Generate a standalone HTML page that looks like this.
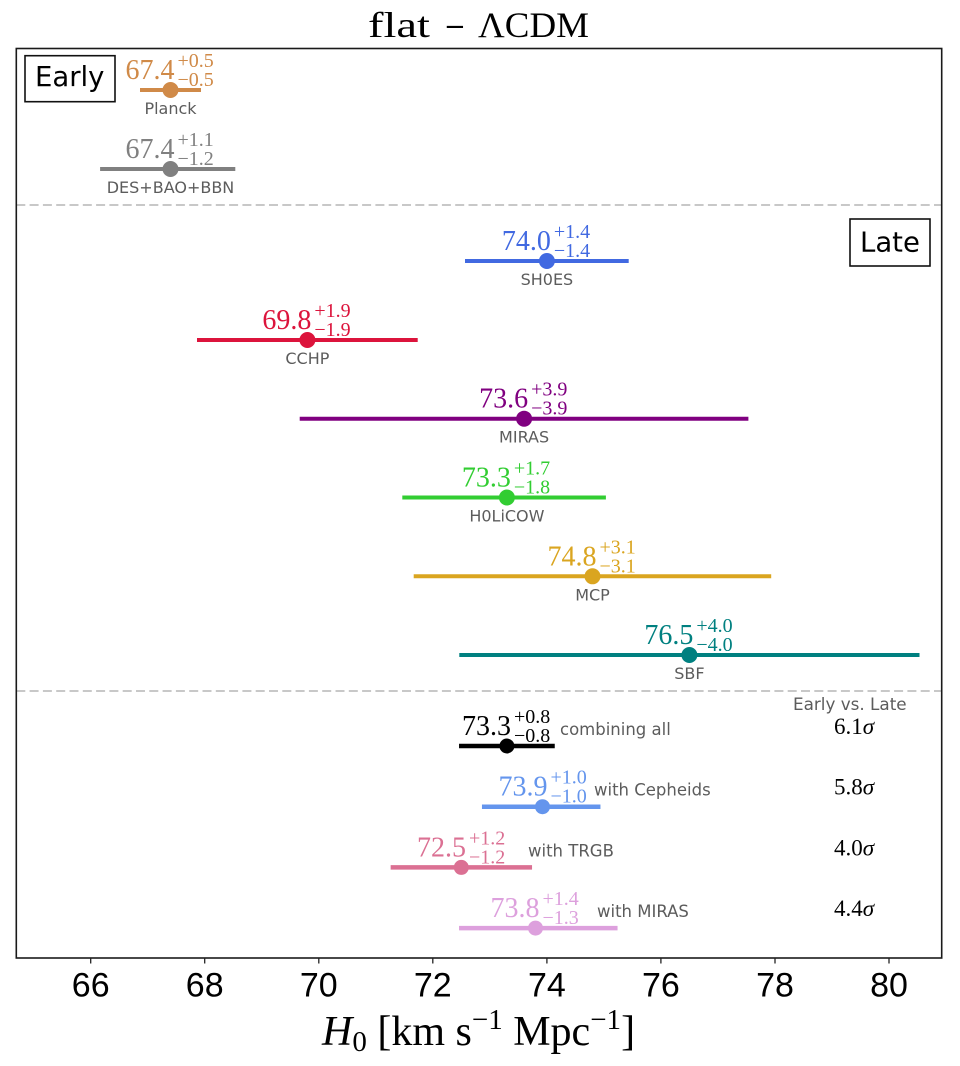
<!DOCTYPE html>
<html>
<head>
<meta charset="utf-8">
<style>
  html, body { margin: 0; padding: 0; background: #ffffff; }
  body { width: 960px; height: 1066px; overflow: hidden; }
  svg { display: block; }
  .serif { font-family: "Liberation Serif", "DejaVu Serif", serif; }
  .sans { font-family: "DejaVu Sans", "Liberation Sans", sans-serif; }
  .lsans { font-family: "Liberation Sans", "DejaVu Sans", sans-serif; }
  .lbl { font-family: "DejaVu Sans", "Liberation Sans", sans-serif; font-size: 16px; fill: #5c5c5c; }
  .blbl { font-family: "DejaVu Sans", "Liberation Sans", sans-serif; font-size: 16.5px; fill: #5c5c5c; }
  .val { font-family: "Liberation Serif", "DejaVu Serif", serif; font-size: 28px; }
  .sup { font-family: "Liberation Serif", "DejaVu Serif", serif; font-size: 20px; }
  .tminus { font-family: "DejaVu Serif", serif; font-size: 26px; }
</style>
</head>
<body>
<svg width="960" height="1066" viewBox="0 0 960 1066" xmlns="http://www.w3.org/2000/svg">
  <rect x="0" y="0" width="960" height="1066" fill="#ffffff"/>

  <!-- Title -->
  <text x="368" y="37" class="serif" font-size="36" fill="#000" textLength="62" lengthAdjust="spacingAndGlyphs">flat</text>
  <text x="444" y="35" class="tminus" fill="#000">−</text>
  <text x="478" y="37" class="serif" font-size="36" fill="#000" textLength="111" lengthAdjust="spacingAndGlyphs">ΛCDM</text>

  <!-- dashed separators -->
  <line x1="16.3" y1="205" x2="941.7" y2="205" stroke="#c8c8c8" stroke-width="2" stroke-dasharray="9 4.3"/>
  <line x1="16.3" y1="691" x2="941.7" y2="691" stroke="#c8c8c8" stroke-width="2" stroke-dasharray="9 4.3"/>

  <!-- Early / Late boxes -->
  <rect x="25" y="55.7" width="90" height="46" fill="#fff" stroke="#111" stroke-width="1.6"/>
  <text x="35" y="86" class="sans" font-size="27.5" fill="#000">Early</text>
  <rect x="850" y="219" width="80" height="47" fill="#fff" stroke="#111" stroke-width="1.6"/>
  <text x="860" y="251.7" class="sans" font-size="27.5" fill="#000">Late</text>

  <!-- ===== Rows ===== -->
  <!-- Planck -->
  <g>
    <line x1="142.0" y1="90" x2="199.0" y2="90" stroke="#d08a48" stroke-width="4" stroke-linecap="square"/>
    <circle cx="170.5" cy="90" r="8" fill="#d08a48"/>
    <text x="125.5" y="79" class="val" fill="#d08a48">67.4</text>
    <text x="177.5" y="67" class="sup" fill="#d08a48">+0.5</text>
    <text x="177.5" y="86" class="sup" fill="#d08a48">−0.5</text>
    <text x="170.5" y="114" class="lbl" text-anchor="middle">Planck</text>
  </g>
  <!-- DES -->
  <g>
    <line x1="102.1" y1="169" x2="233.3" y2="169" stroke="#808080" stroke-width="4" stroke-linecap="square"/>
    <circle cx="170.5" cy="169" r="8" fill="#808080"/>
    <text x="125.5" y="158" class="val" fill="#808080">67.4</text>
    <text x="177.5" y="146" class="sup" fill="#808080">+1.1</text>
    <text x="177.5" y="165" class="sup" fill="#808080">−1.2</text>
    <text x="170.5" y="193" class="lbl" text-anchor="middle">DES+BAO+BBN</text>
  </g>
  <!-- SH0ES -->
  <g>
    <line x1="467.0" y1="261" x2="626.7" y2="261" stroke="#4169e1" stroke-width="4" stroke-linecap="square"/>
    <circle cx="546.9" cy="261" r="8" fill="#4169e1"/>
    <text x="501.9" y="250" class="val" fill="#4169e1">74.0</text>
    <text x="553.9" y="238" class="sup" fill="#4169e1">+1.4</text>
    <text x="553.9" y="257" class="sup" fill="#4169e1">−1.4</text>
    <text x="546.9" y="285" class="lbl" text-anchor="middle">SH0ES</text>
  </g>
  <!-- CCHP -->
  <g>
    <line x1="199.0" y1="340" x2="415.7" y2="340" stroke="#dc143c" stroke-width="4" stroke-linecap="square"/>
    <circle cx="307.4" cy="340" r="8" fill="#dc143c"/>
    <text x="262.4" y="329" class="val" fill="#dc143c">69.8</text>
    <text x="314.4" y="317" class="sup" fill="#dc143c">+1.9</text>
    <text x="314.4" y="336" class="sup" fill="#dc143c">−1.9</text>
    <text x="307.4" y="364" class="lbl" text-anchor="middle">CCHP</text>
  </g>
  <!-- MIRAS -->
  <g>
    <line x1="301.7" y1="418.7" x2="746.4" y2="418.7" stroke="#800080" stroke-width="4" stroke-linecap="square"/>
    <circle cx="524.1" cy="418.7" r="8" fill="#800080"/>
    <text x="479.1" y="407.7" class="val" fill="#800080">73.6</text>
    <text x="531.1" y="395.7" class="sup" fill="#800080">+3.9</text>
    <text x="531.1" y="414.7" class="sup" fill="#800080">−3.9</text>
    <text x="524.1" y="442.7" class="lbl" text-anchor="middle">MIRAS</text>
  </g>
  <!-- H0LiCOW -->
  <g>
    <line x1="404.3" y1="497.5" x2="603.9" y2="497.5" stroke="#32cd32" stroke-width="4" stroke-linecap="square"/>
    <circle cx="506.9" cy="497.5" r="8" fill="#32cd32"/>
    <text x="461.9" y="486.5" class="val" fill="#32cd32">73.3</text>
    <text x="513.9" y="474.5" class="sup" fill="#32cd32">+1.7</text>
    <text x="513.9" y="493.5" class="sup" fill="#32cd32">−1.8</text>
    <text x="506.9" y="521.5" class="lbl" text-anchor="middle">H0LiCOW</text>
  </g>
  <!-- MCP -->
  <g>
    <line x1="415.7" y1="576.3" x2="769.2" y2="576.3" stroke="#daa520" stroke-width="4" stroke-linecap="square"/>
    <circle cx="592.5" cy="576.3" r="8" fill="#daa520"/>
    <text x="547.5" y="565.3" class="val" fill="#daa520">74.8</text>
    <text x="599.5" y="553.3" class="sup" fill="#daa520">+3.1</text>
    <text x="599.5" y="572.3" class="sup" fill="#daa520">−3.1</text>
    <text x="592.5" y="600.3" class="lbl" text-anchor="middle">MCP</text>
  </g>
  <!-- SBF -->
  <g>
    <line x1="461.3" y1="655" x2="917.5" y2="655" stroke="#008080" stroke-width="4" stroke-linecap="square"/>
    <circle cx="689.4" cy="655" r="8" fill="#008080"/>
    <text x="644.4" y="644" class="val" fill="#008080">76.5</text>
    <text x="696.4" y="632" class="sup" fill="#008080">+4.0</text>
    <text x="696.4" y="651" class="sup" fill="#008080">−4.0</text>
    <text x="689.4" y="679" class="lbl" text-anchor="middle">SBF</text>
  </g>

  <!-- Early vs. Late header -->
  <text x="793" y="710" class="sans" font-size="16.8" fill="#5c5c5c">Early vs. Late</text>

  <!-- combining all -->
  <g>
    <line x1="461.3" y1="746" x2="552.5" y2="746" stroke="#000000" stroke-width="4.5" stroke-linecap="square"/>
    <circle cx="506.9" cy="746" r="7.5" fill="#000000"/>
    <text x="462" y="735" class="val" fill="#000">73.3</text>
    <text x="514" y="723" class="sup" fill="#000">+0.8</text>
    <text x="514" y="742" class="sup" fill="#000">−0.8</text>
    <text x="560" y="735" class="blbl">combining all</text>
    <text x="834" y="734" class="serif" font-size="23" fill="#000">6.1<tspan font-style="italic">σ</tspan></text>
  </g>
  <!-- with Cepheids -->
  <g>
    <line x1="484.2" y1="806.7" x2="598.2" y2="806.7" stroke="#6495ed" stroke-width="4.5" stroke-linecap="square"/>
    <circle cx="542.5" cy="806.7" r="7.5" fill="#6495ed"/>
    <text x="498.5" y="795.7" class="val" fill="#6495ed">73.9</text>
    <text x="550.5" y="783.7" class="sup" fill="#6495ed">+1.0</text>
    <text x="550.5" y="802.7" class="sup" fill="#6495ed">−1.0</text>
    <text x="594" y="795.7" class="blbl">with Cepheids</text>
    <text x="834" y="794.7" class="serif" font-size="23" fill="#000">5.8<tspan font-style="italic">σ</tspan></text>
  </g>
  <!-- with TRGB -->
  <g>
    <line x1="392.9" y1="867.4" x2="529.8" y2="867.4" stroke="#db7093" stroke-width="4.5" stroke-linecap="square"/>
    <circle cx="461.3" cy="867.4" r="7.5" fill="#db7093"/>
    <text x="417" y="856.4" class="val" fill="#db7093">72.5</text>
    <text x="469" y="844.4" class="sup" fill="#db7093">+1.2</text>
    <text x="469" y="863.4" class="sup" fill="#db7093">−1.2</text>
    <text x="528" y="856.4" class="blbl">with TRGB</text>
    <text x="834" y="855.4" class="serif" font-size="23" fill="#000">4.0<tspan font-style="italic">σ</tspan></text>
  </g>
  <!-- with MIRAS -->
  <g>
    <line x1="461.3" y1="928.1" x2="615.3" y2="928.1" stroke="#dda0dd" stroke-width="4.5" stroke-linecap="square"/>
    <circle cx="535.5" cy="928.1" r="7.5" fill="#dda0dd"/>
    <text x="490.5" y="917.1" class="val" fill="#dda0dd">73.8</text>
    <text x="542.5" y="905.1" class="sup" fill="#dda0dd">+1.4</text>
    <text x="542.5" y="924.1" class="sup" fill="#dda0dd">−1.3</text>
    <text x="597" y="917.1" class="blbl">with MIRAS</text>
    <text x="834" y="916" class="serif" font-size="23" fill="#000">4.4<tspan font-style="italic">σ</tspan></text>
  </g>

  <!-- Axes frame -->
  <rect x="16.3" y="48.5" width="925.4" height="909.5" fill="none" stroke="#1a1a1a" stroke-width="1.6"/>

  <!-- ticks -->
  <g stroke="#222" stroke-width="1.3">
    <line x1="90.7" y1="958" x2="90.7" y2="963.5"/>
    <line x1="204.7" y1="958" x2="204.7" y2="963.5"/>
    <line x1="318.8" y1="958" x2="318.8" y2="963.5"/>
    <line x1="432.8" y1="958" x2="432.8" y2="963.5"/>
    <line x1="546.9" y1="958" x2="546.9" y2="963.5"/>
    <line x1="660.9" y1="958" x2="660.9" y2="963.5"/>
    <line x1="775.0" y1="958" x2="775.0" y2="963.5"/>
    <line x1="889.0" y1="958" x2="889.0" y2="963.5"/>
  </g>
  <g class="lsans" font-size="34" fill="#000" text-anchor="middle">
    <text x="90.7" y="996.5">66</text>
    <text x="204.7" y="996.5">68</text>
    <text x="318.8" y="996.5">70</text>
    <text x="432.8" y="996.5">72</text>
    <text x="546.9" y="996.5">74</text>
    <text x="660.9" y="996.5">76</text>
    <text x="775.0" y="996.5">78</text>
    <text x="889.0" y="996.5">80</text>
  </g>

  <!-- x label -->
  <text x="322" y="1045" class="serif" font-size="42" fill="#000"><tspan font-style="italic">H</tspan><tspan font-size="29" dy="6">0</tspan><tspan dy="-6"> [km s</tspan><tspan font-size="29" dy="-16">−1</tspan><tspan dy="16"> Mpc</tspan><tspan font-size="29" dy="-16">−1</tspan><tspan dy="16">]</tspan></text>
</svg>
</body>
</html>
